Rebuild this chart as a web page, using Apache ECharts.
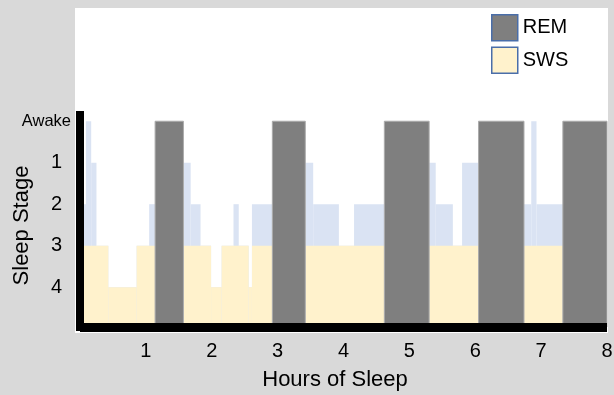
<!DOCTYPE html>
<html>
<head>
<meta charset="utf-8">
<script src="https://cdn.jsdelivr.net/npm/echarts@6/dist/echarts.min.js"></script>
<style>
  html, body { margin: 0; padding: 0; background: #d9d9d9; }
  #chart { width: 614px; height: 395px; }
</style>
</head>
<body>
<div id="chart"></div>
<script>
// sleep stage changes (hours), each stage holds until the next time; null = REM period
const stageTimes  = [0, 0.09, 0.17, 0.25, 0.43, 0.86, 1.05, 1.14, 1.57, 1.68, 1.83, 1.99, 2.15, 2.33, 2.41, 2.56, 2.61, 2.92, 3.42, 3.54, 3.93, 4.16, 4.62, 5.30, 5.40, 5.66, 5.80, 6.05, 6.74, 6.85, 6.93, 7.33, 8]
const stageLevels = [2, 0, 1, 3, 4, 3, 2, null, 1, 2, 3, 4, 3, 2, 3, 4, 2, null, 1, 2, 3, 2, null, 1, 2, 3, 1, null, 2, 0, 2, null]

// slow wave sleep (stage 3/4) depth
const swsTimes  = [0, 0.43, 0.86, 1.14, 1.57, 1.99, 2.15, 2.56, 2.61, 2.92, 3.42, 4.62, 5.30, 6.05, 6.74, 7.33, 8]
const swsLevels = [3, 4, 3, null, 3, 4, 3, 4, 3, null, 3, null, 3, null, 3, null]

// REM periods
const remStart = [1.14, 2.92, 4.62, 6.05, 7.33]
const remEnd   = [1.57, 3.42, 5.30, 6.74, 8.0]

const stageLabels = ["Awake", "1", "2", "3", "4"]
const hourTicks = [1, 2, 3, 4, 5, 6, 7, 8]

const yMin = -0.15
const yMax = 4.96

function toSegments(times, levels) {
  const out = []
  for (let i = 0; i < levels.length; i++) {
    if (levels[i] === null) continue
    out.push([times[i], times[i + 1], levels[i]])
  }
  return out
}

function rectItem(params, api) {
  const p0 = api.coord([api.value(0), api.value(2)])
  const p1 = api.coord([api.value(1), yMax])
  return {
    type: "rect",
    shape: { x: p0[0], y: p0[1], width: p1[0] - p0[0], height: p1[1] - p0[1] },
    style: api.style()
  }
}

const chart = echarts.init(document.getElementById("chart"))

const option = {
  backgroundColor: "#d9d9d9",
  animation: false,
  textStyle: { fontFamily: "Liberation Sans, Arial, sans-serif", color: "#000" },
  graphic: {
    elements: [
      {
        type: "rect",
        z: -10,
        silent: true,
        shape: { x: 75, y: 8, width: 533, height: 325 },
        style: { fill: "#ffffff" }
      }
    ]
  },
  legend: {
    orient: "vertical",
    left: 486,
    top: 9,
    itemWidth: 26,
    itemHeight: 26,
    itemGap: 5,
    icon: "rect",
    selectedMode: false,
    textStyle: { fontSize: 20, color: "#000", fontFamily: "Liberation Sans, Arial, sans-serif" },
    data: [
      { name: "REM", itemStyle: { color: "#7f7f7f", borderColor: "#4a6ea9", borderWidth: 1.5 } },
      { name: "SWS", itemStyle: { color: "#fff2cc", borderColor: "#4a6ea9", borderWidth: 1.5 } }
    ]
  },
  grid: {
    left: 80,
    right: 7,
    top: 115,
    bottom: 68,
    containLabel: false,
    outerBoundsMode: "none"
  },
  xAxis: {
    type: "value",
    min: 0,
    max: 8,
    interval: 1,
    z: 10,
    name: "Hours of Sleep",
    nameLocation: "middle",
    nameGap: 42,
    nameMoveOverlap: false,
    nameTextStyle: { fontSize: 22, color: "#000", padding: [0, 17, 0, 0] },
    axisLine: { onZero: false, lineStyle: { color: "#000", width: 9, cap: "butt" } },
    axisTick: { show: false },
    splitLine: { show: false },
    axisLabel: {
      customValues: hourTicks,
      fontSize: 20,
      color: "#000",
      margin: 14
    }
  },
  yAxis: {
    type: "value",
    inverse: true,
    min: yMin,
    max: yMax,
    z: 10,
    name: "Sleep Stage",
    nameLocation: "middle",
    nameGap: 47,
    nameRotate: 90,
    nameMoveOverlap: false,
    nameTextStyle: { fontSize: 22, color: "#000", padding: [0, 9, 0, 0] },
    axisLine: { onZero: false, lineStyle: { color: "#000", width: 8, cap: "square" } },
    axisTick: { show: false },
    splitLine: { show: false },
    axisLabel: {
      customValues: [0, 1, 2, 3, 4],
      margin: 9,
      formatter: function (v) {
        return v === 0 ? "{a|" + stageLabels[0] + "}" : "{n|" + stageLabels[v] + "}"
      },
      rich: {
        a: { fontSize: 16.5, color: "#000" },
        n: { fontSize: 20, color: "#000", padding: [0, 9, 0, 0] }
      }
    }
  },
  series: [
    {
      name: "Stage",
      type: "custom",
      renderItem: rectItem,
      encode: { x: [0, 1], y: 2 },
      itemStyle: { color: "#dae3f3" },
      z: 1,
      data: toSegments(stageTimes, stageLevels)
    },
    {
      name: "SWS",
      type: "custom",
      renderItem: rectItem,
      encode: { x: [0, 1], y: 2 },
      itemStyle: { color: "#fff2cc" },
      z: 2,
      data: toSegments(swsTimes, swsLevels)
    },
    {
      name: "REM",
      type: "custom",
      renderItem: rectItem,
      encode: { x: [0, 1], y: 2 },
      itemStyle: { color: "#7f7f7f", borderColor: "#ababab", borderWidth: 1 },
      z: 3,
      data: remStart.map((s, i) => [s, remEnd[i], 0])
    }
  ]
}

chart.setOption(option)
</script>
</body>
</html>
